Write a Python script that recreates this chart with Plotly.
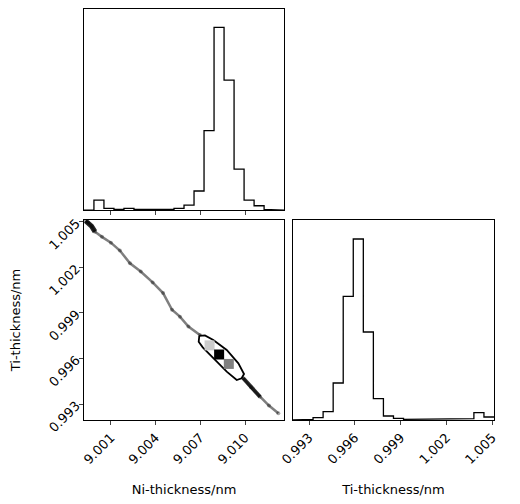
import plotly.graph_objects as go

# axis ranges and ticks
ni_range = [8.99919, 9.01262]
ti_range = [0.99195, 1.00511]
ni_ticks = [9.001, 9.004, 9.007, 9.010]
ti_ticks = [0.993, 0.996, 0.999, 1.002, 1.005]

# 1D histograms (20 bins across each range), counts
ni_counts = [0, 30, 5, 2, 5, 2, 2, 2, 2, 5, 15, 57, 237, 545, 388, 122, 30, 13, 2, 0]
ti_counts = [0, 2, 7, 25, 111, 371, 543, 264, 64, 12, 5, 2, 2, 2, 2, 4, 2, 4, 22, 9]

# 2D samples along the chain
ni_samples = [8.99930, 8.99948, 8.99970, 8.99993, 9.00040, 9.00100, 9.00160, 9.00228,
              9.00300, 9.00380, 9.00450, 9.00510, 9.00563, 9.00620, 9.00697, 9.00760,
              9.00830, 9.00900, 9.00950, 9.00988, 9.01040, 9.01100, 9.01160, 9.01223]
ti_samples = [1.00505, 1.00493, 1.00470, 1.00434, 1.00400, 1.00362, 1.00310, 1.00226,
              1.00172, 1.00100, 1.00030, 0.99920, 0.99875, 0.99810, 0.99754, 0.99690,
              0.99625, 0.99560, 0.99510, 0.99470, 0.99410, 0.99348, 0.99290, 0.99239]

# contour outline
contour_ni = [9.00693, 9.00731, 9.00787, 9.00877, 9.00955, 9.00993, 9.00977, 9.00944,
              9.00877, 9.00787, 9.00716, 9.00689, 9.00693]
contour_ti = [0.99748, 0.99752, 0.99722, 0.99656, 0.99568, 0.99498, 0.99470, 0.99458,
              0.99513, 0.99601, 0.99673, 0.99710, 0.99748]

# 2D density cells (center ni, center ti, colour)
cell_ni = [9.00762, 9.00826, 9.00891]
cell_ti = [0.99686, 0.99626, 0.99564]
cell_colors = ['#cccccc', '#000000', '#808080']
cell_w = (ni_range[1] - ni_range[0]) / 20
cell_h = (ti_range[1] - ti_range[0]) / 20


def step(rng, counts):
    n = len(counts)
    w = (rng[1] - rng[0]) / n
    xs, ys = [], []
    for i, c in enumerate(counts):
        xs += [rng[0] + i * w, rng[0] + (i + 1) * w]
        ys += [c, c]
    return xs, ys


fig = go.Figure()
hx, hy = step(ni_range, ni_counts)
fig.add_trace(go.Scatter(x=hx, y=hy, mode='lines', line=dict(color='black', width=1.3),
                         xaxis='x', yaxis='y'))
tx, ty = step(ti_range, ti_counts)
fig.add_trace(go.Scatter(x=tx, y=ty, mode='lines', line=dict(color='black', width=1.3),
                         xaxis='x3', yaxis='y3'))
fig.add_trace(go.Scatter(x=ni_samples, y=ti_samples, mode='lines+markers',
                         line=dict(color='rgba(0,0,0,0.5)', width=2.5),
                         marker=dict(color='rgba(0,0,0,0.35)', size=4),
                         xaxis='x2', yaxis='y2'))
fig.add_trace(go.Scatter(x=ni_samples[:4], y=ti_samples[:4], mode='lines',
                         line=dict(color='rgba(0,0,0,0.85)', width=5), xaxis='x2', yaxis='y2'))
fig.add_trace(go.Scatter(x=ni_samples[19:22], y=ti_samples[19:22], mode='lines',
                         line=dict(color='rgba(0,0,0,0.8)', width=4), xaxis='x2', yaxis='y2'))
fig.add_trace(go.Scatter(x=contour_ni, y=contour_ti, mode='lines', fill='toself',
                         fillcolor='white', line=dict(color='black', width=1.8),
                         xaxis='x2', yaxis='y2'))
for cx, cy, col in zip(cell_ni, cell_ti, cell_colors):
    fig.add_trace(go.Scatter(
        x=[cx - cell_w / 2, cx + cell_w / 2, cx + cell_w / 2, cx - cell_w / 2, cx - cell_w / 2],
        y=[cy - cell_h / 2, cy - cell_h / 2, cy + cell_h / 2, cy + cell_h / 2, cy - cell_h / 2],
        mode='lines', fill='toself', fillcolor=col, line=dict(width=0),
        xaxis='x2', yaxis='y2'))

ax = dict(showline=True, mirror=True, linecolor='black', linewidth=1, ticks='outside',
          ticklen=4, showgrid=False, zeroline=False, automargin=False,
          tickfont=dict(size=13, color='black'))
tl = ['0.993', '0.996', '0.999', '1.002', '1.005']
fig.update_layout(
    width=520, height=504, margin=dict(l=0, r=0, t=0, b=0), showlegend=False,
    plot_bgcolor='white', paper_bgcolor='white',
    font=dict(family='DejaVu Sans', color='black'),
    xaxis=dict(ax, domain=[0.146, 0.531], range=ni_range, tickvals=ni_ticks,
               showticklabels=False, anchor='y'),
    yaxis=dict(ax, domain=[0.599, 0.998], range=[0, 600], showticklabels=False,
               ticks='', anchor='x'),
    xaxis2=dict(ax, domain=[0.146, 0.531], range=ni_range, tickvals=ni_ticks,
                ticktext=['9.001', '9.004', '9.007', '9.010'], tickangle=-45, anchor='y2',
                title=dict(text='Ni-thickness/nm', font=dict(size=13), standoff=18)),
    yaxis2=dict(ax, domain=[0.1825, 0.5794], range=ti_range, tickvals=ti_ticks,
                ticktext=tl, tickangle=-45, anchor='x2',
                title=dict(text='Ti-thickness/nm', font=dict(size=13), standoff=24)),
    xaxis3=dict(ax, domain=[0.548, 0.9346], range=ti_range, tickvals=ti_ticks,
                ticktext=tl, tickangle=-45, anchor='y3',
                title=dict(text='Ti-thickness/nm', font=dict(size=13), standoff=18)),
    yaxis3=dict(ax, domain=[0.1825, 0.5794], range=[0, 600], showticklabels=False,
                ticks='', anchor='x3'),
)
fig.write_html("out.html")
